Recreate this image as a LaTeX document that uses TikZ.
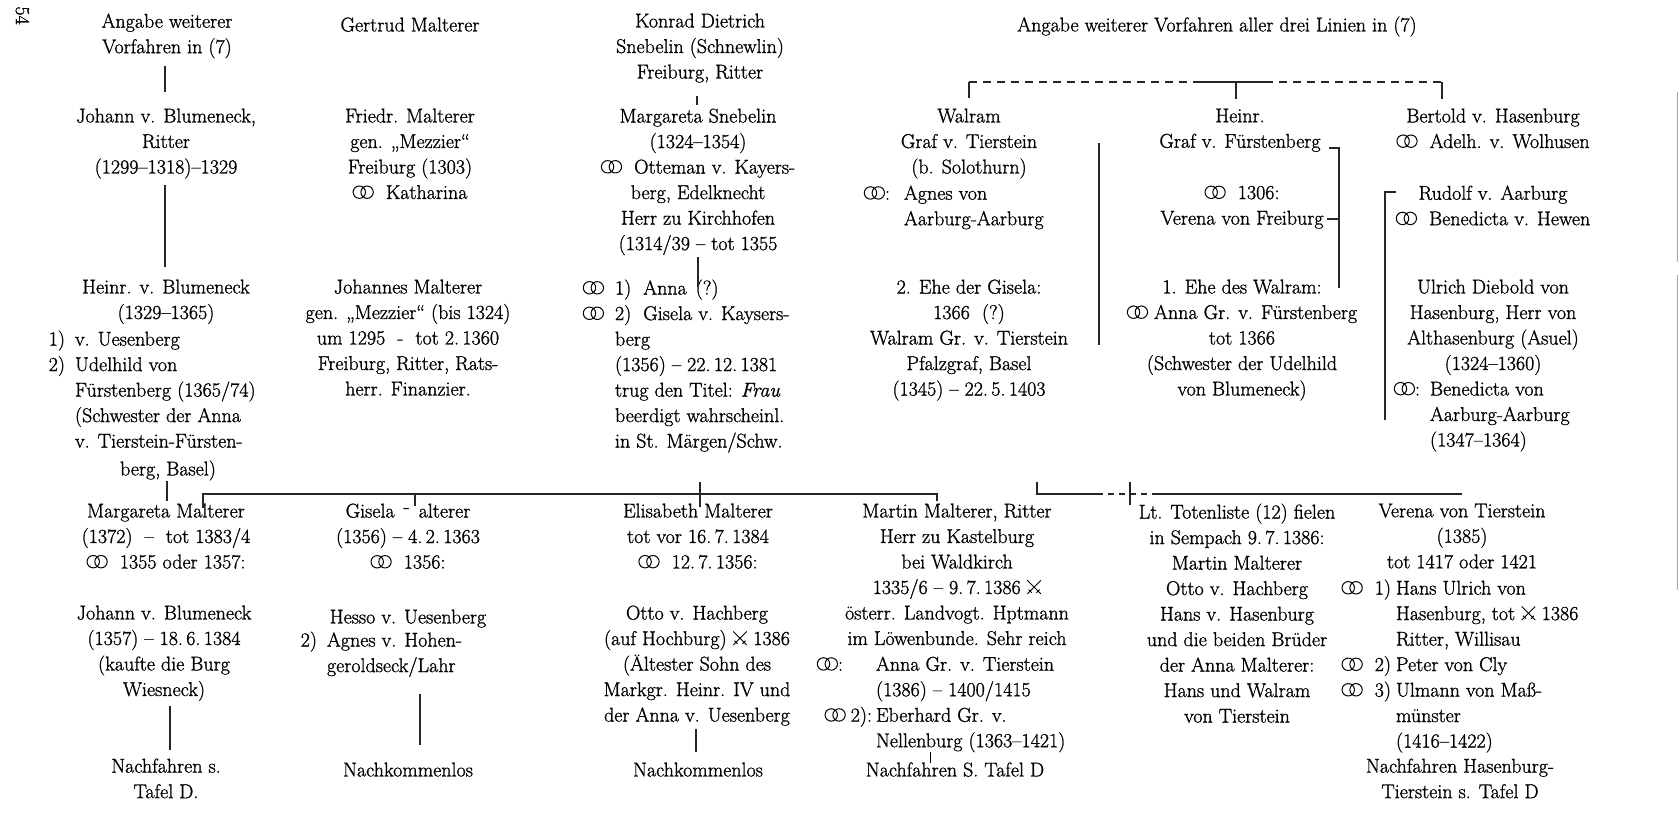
\documentclass[tikz,border=0pt]{standalone}
\usepackage{fontspec}
\setmainfont{Latin Modern Roman}[FakeBold=1.1]
\usetikzlibrary{calc}
\newcommand{\ehe}{\tikz[baseline=0pt]{\draw[line width=1pt] (0.33em,0.34em) circle[radius=0.31em] (0.72em,0.34em) circle[radius=0.31em];}}
\newcommand{\schw}{\tikz[baseline=0pt]{\draw[line width=0.9pt] (0em,0.68em)--(0.68em,0em) (0.68em,0.68em)--(0em,0em) (0.46em,0.06em)--(0.62em,0.22em) (0.06em,0.22em)--(0.22em,0.06em);}}
\tikzset{
  txt/.style={font=\fontsize{20}{25.5}\selectfont, inner sep=0pt, outer sep=0pt, align=center, anchor=north, yshift=8.4pt, execute at begin node=\strut},
  txtl/.style={txt, align=left, anchor=north west},
  con/.style={line width=1.3pt, draw=black!85},
  dcon/.style={con, dash pattern=on 8pt off 6pt},
  scon/.style={con, dash pattern=on 6pt off 5pt},
  edge/.style={line width=1pt, draw=black!35},
}
\begin{document}
\begin{tikzpicture}[x=1pt,y=-1pt]
\fill[white] (0,0) rectangle (1680,824);
\useasboundingbox (0,0) rectangle (1680,824);

\node[txt, rotate=-90, anchor=center, yshift=0pt] (page) at (21,24) {54};

% Row A
\node[txt] (a1) at (167,22) {Angabe weiterer\\Vorfahren in (7)};
\node[txt] (a2) at (410,22) {Gertrud Malterer};
\node[txt] (a3) at (700,22) {Konrad Dietrich\\Snebelin (Schnewlin)\\Freiburg, Ritter};
\node[txt] (a4) at (1217,22) {Angabe weiterer Vorfahren aller drei Linien in (7)};

% Row B
\node[txt] (b1) at (166,117) {Johann v. Blumeneck,\\Ritter\\(1299–1318)–1329};
\node[txt] (b2) at (410,117) {Friedr. Malterer\\gen. „Mezzier“\\Freiburg (1303)\\\ehe~~Katharina};
\node[txt] (b3) at (698,117) {Margareta Snebelin\\(1324–1354)\\\ehe~~Otteman v. Kayers-\\berg, Edelknecht\\Herr zu Kirchhofen\\(1314/39 – tot 1355};
\node[txt] (b4) at (969,117) {Walram\\Graf v. Tierstein\\(b. Solothurn)};
\node[txtl] (b4b) at (904,194) {\llap{\ehe:\hspace{14pt}}Agnes von\\Aarburg-Aarburg};
\node[txt] (b5) at (1240,117) {Heinr.\\Graf v. Fürstenberg};
\node[txt] (b5b) at (1242,194) {\ehe~~1306:\\Verena von Freiburg};
\node[txt] (b6) at (1493,117) {Bertold v. Hasenburg\\\ehe~~Adelh. v. Wolhusen};
\node[txt] (b6b) at (1493,194) {Rudolf v. Aarburg\\\ehe~~Benedicta v. Hewen};

% Row C
\node[txt] (c1) at (166,288) {Heinr. v. Blumeneck\\(1329–1365)};
\node[txtl] (c1b) at (75,339) {\llap{1)\hspace{10pt}}v. Uesenberg\\\llap{2)\hspace{10pt}}Udelhild von\\Fürstenberg (1365/74)\\(Schwester der Anna\\v. Tierstein-Fürsten-};
\node[txt] (c1c) at (168,466) {berg, Basel)};
\node[txt] (c2) at (408,288) {Johannes Malterer\\gen. „Mezzier“ (bis 1324)\\um 1295~~-~~tot 2.\,1360\\Freiburg, Ritter, Rats-\\herr. Finanzier.};
\node[txtl] (c3) at (615,288) {\llap{\ehe\hspace{11pt}}1)\hspace{12pt}Anna\hspace{9pt}(?)\\\llap{\ehe\hspace{11pt}}2)\hspace{12pt}Gisela v. Kaysers-\\berg\\(1356) – 22.\,12.\,1381\\trug den Titel: \textit{Frau}\\beerdigt wahrscheinl.\\in St. Märgen/Schw.};
\node[txt] (c4) at (969,288) {2. Ehe der Gisela:\\1366~~(?)\\Walram Gr. v. Tierstein\\Pfalzgraf, Basel\\(1345) – 22.\,5.\,1403};
\node[txt] (c5) at (1242,288) {1. Ehe des Walram:\\\ehe~Anna Gr. v. Fürstenberg\\tot 1366\\(Schwester der Udelhild\\von Blumeneck)};
\node[txt] (c6) at (1493,288) {Ulrich Diebold von\\Hasenburg, Herr von\\Althasenburg (Asuel)\\(1324–1360)};
\node[txtl] (c6b) at (1430,390) {\llap{\ehe:\hspace{10pt}}Benedicta von\\Aarburg-Aarburg\\(1347–1364)};

% Row D
\node[txt] (d1) at (166,512) {Margareta Malterer\\(1372)~~–~~tot 1383/4\\\ehe~~1355 oder 1357:};
\node[txt] (d1b) at (164,614) {Johann v. Blumeneck\\(1357) – 18.\,6.\,1384\\(kaufte die Burg\\Wiesneck)};
\node[txt] (d1c) at (166,767) {Nachfahren s.\\Tafel D.};
\node[txt] (d2) at (408,512) {Gisela\hspace{9pt}\raisebox{0.55ex}{-}\hspace{9pt}alterer\\(1356) – 4.\,2.\,1363\\\ehe~~1356:};
\node[txt] (d2b) at (408,614) {Hesso v. Uesenberg};
\node[txtl] (d2c) at (327,640) {\llap{2)\hspace{10pt}}Agnes v. Hohen-\\geroldseck/Lahr};
\node[txt] (d2d) at (408,767) {Nachkommenlos};
\node[txt] (d3) at (698,512) {Elisabeth Malterer\\tot vor 16.\,7.\,1384\\\ehe~~12.\,7.\,1356:};
\node[txt] (d3b) at (697,614) {Otto v. Hachberg\\(auf Hochburg) \schw\ 1386\\(Ältester Sohn des\\Markgr. Heinr. IV und\\der Anna v. Uesenberg};
\node[txt] (d3c) at (698,767) {Nachkommenlos};
\node[txt] (d4) at (957,512) {Martin Malterer, Ritter\\Herr zu Kastelburg\\bei Waldkirch\\1335/6 – 9.\,7.\,1386 \schw\\österr. Landvogt. Hptmann\\im Löwenbunde. Sehr reich};
\node[txtl] (d4b) at (876,665) {\llap{\ehe:\hspace{33pt}}Anna Gr. v. Tierstein\\(1386) – 1400/1415\\\llap{\ehe\hspace{5pt}2):\hspace{4pt}}Eberhard Gr. v.\\Nellenburg (1363–1421)};
\node[txt] (d4c) at (955,767) {Nachfahren S. Tafel D};
\node[txt] (d5) at (1237,512) {Lt. Totenliste (12) fielen\\in Sempach 9.\,7.\,1386:\\Martin Malterer\\Otto v. Hachberg\\Hans v. Hasenburg\\und die beiden Brüder\\der Anna Malterer:\\Hans und Walram\\von Tierstein};
\node[txt] (d6) at (1462,512) {Verena von Tierstein\\(1385)\\tot 1417 oder 1421};
\node[txtl] (d6b) at (1396,588) {\llap{\ehe\hspace{12pt}1)\hspace{5pt}}Hans Ulrich von\\Hasenburg, tot \schw\ 1386\\Ritter, Willisau\\\llap{\ehe\hspace{12pt}2)\hspace{5pt}}Peter von Cly\\\llap{\ehe\hspace{12pt}3)\hspace{5pt}}Ulmann von Maß-\\münster\\(1416–1422)};
\node[txt] (d6c) at (1460,767) {Nachfahren Hasenburg-\\Tierstein s. Tafel D};

% connector coordinates
\coordinate (l1t) at (165,66);  \coordinate (l1b) at (165,92);
\coordinate (l2t) at (165,185); \coordinate (l2b) at (165,267);
\coordinate (l3t) at (697,96);  \coordinate (l3b) at (697,105);
\coordinate (l4t) at (698,257); \coordinate (l4b) at (698,287);
\draw[con] (l1t) -- (l1b);
\draw[con] (l2t) -- (l2b);
\draw[con] (l3t) -- (l3b);
\draw[con] (l4t) -- (l4b);

% top dashed bracket
\coordinate (tw) at (969,82); \coordinate (th) at (1236,82); \coordinate (tb) at (1442,82);
\coordinate (ts1) at (1198,82); \coordinate (ts2) at (1265,82);
\draw[dcon] (tw) -- (ts1);
\draw[con] (ts1) -- (ts2);
\draw[dcon] (ts2) -- (tb);
\draw[con] (tw) -- ++(0,16);
\draw[con] (th) -- ++(0,17);
\draw[con] (tb) -- ++(0,17);

% brackets right side
\coordinate (wv1) at (1099,143); \coordinate (wv2) at (1099,345);
\draw[con] (wv1) -- (wv2);
\coordinate (hb1) at (1329,148); \coordinate (hb2) at (1339,148); \coordinate (hb3) at (1339,288);
\coordinate (hv1) at (1327,219); \coordinate (hv2) at (1339,219);
\draw[con] (hb1) -- (hb2) -- (hb3);
\draw[con] (hv1) -- (hv2);
\coordinate (rb1) at (1396,192); \coordinate (rb2) at (1385,192); \coordinate (rb3) at (1385,420);
\draw[con] (rb1) -- (rb2) -- (rb3);

% row C/D connections
\coordinate (k1t) at (167,481); \coordinate (k1b) at (167,501);
\draw[con] (k1t) -- (k1b);
\coordinate (hl) at (203,494); \coordinate (hr) at (937,494);
\draw[con] ($(hl)+(0,14)$) -- (hl) -- (hr) -- ++(0,7);
\coordinate (k2) at (415,494);
\draw[con] (k2) -- ++(0,12);
\coordinate (k3t) at (700,482); \coordinate (k3b) at (700,507);
\draw[con] (k3t) -- (k3b);

\coordinate (g1) at (1037,482); \coordinate (g2) at (1037,494); \coordinate (g3) at (1097,494);
\coordinate (g4) at (1157,494); \coordinate (g5) at (1462,494);
\coordinate (gt1) at (1130,482); \coordinate (gt2) at (1130,505);
\draw[con] (g1) -- (g2) -- (g3);
\draw[scon] (g3) -- (g4);
\draw[con] (g4) -- (g5);
\draw[con] (gt1) -- (gt2);

% bottom lines
\coordinate (m1t) at (170,706); \coordinate (m1b) at (170,750);
\coordinate (m2t) at (420,694); \coordinate (m2b) at (420,745);
\coordinate (m3t) at (696,729); \coordinate (m3b) at (696,752);
\coordinate (m4t) at (930,752); \coordinate (m4b) at (930,763);
\draw[con] (m1t) -- (m1b);
\draw[con] (m2t) -- (m2b);
\draw[con] (m3t) -- (m3b);
\draw[line width=0.8pt] (m4t) -- (m4b);

% page edge lines
\coordinate (e1) at (1677,92); \coordinate (e2) at (1677,262);
\coordinate (e3) at (1677,275); \coordinate (e4) at (1677,590);
\draw[edge] (e1) -- (e2);
\draw[edge] (e3) -- (e4);
\end{tikzpicture}
\end{document}
